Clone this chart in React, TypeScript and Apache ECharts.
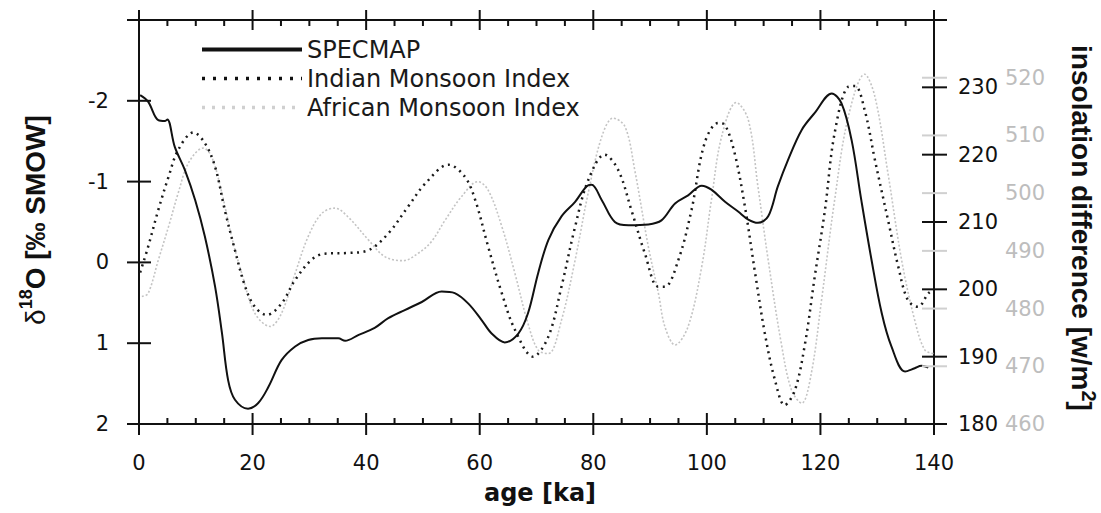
import React, { useEffect, useRef } from "react";
import * as echarts from "echarts";

// ---------- data ----------
const specmapAge = [0.2, 1.6, 3.4, 4.6, 5.0, 6.3, 8.1, 9.9, 11.6, 13.4, 14.6, 15.7, 16.9, 19.2, 21.0, 22.8, 25.1, 27.5, 29.8, 32.2, 35.1, 36.3, 38.6, 41.5, 43.9, 46.8, 49.8, 53.3, 55.6, 58.0, 60.3, 62.1, 64.4, 66.8, 68.5, 70.3, 72.1, 74.4, 76.8, 78.8, 79.7, 81.5, 83.8, 86.2, 89.7, 92.0, 94.4, 96.7, 99.1, 100.8, 103.2, 105.5, 107.3, 109.0, 110.8, 112.5, 114.3, 116.7, 119.0, 122.0, 123.7, 125.5, 127.2, 129.0, 130.8, 132.5, 134.9, 136.6, 137.8, 139.0];
const specmapValues = [-2.07, -1.99, -1.76, -1.75, -1.77, -1.43, -1.14, -0.77, -0.32, 0.30, 0.87, 1.46, 1.70, 1.81, 1.74, 1.54, 1.21, 1.04, 0.96, 0.94, 0.94, 0.97, 0.90, 0.81, 0.69, 0.59, 0.49, 0.36, 0.38, 0.51, 0.71, 0.88, 0.99, 0.88, 0.63, 0.13, -0.28, -0.57, -0.75, -0.94, -0.96, -0.77, -0.50, -0.46, -0.47, -0.52, -0.73, -0.83, -0.95, -0.90, -0.75, -0.63, -0.53, -0.49, -0.57, -0.94, -1.27, -1.64, -1.85, -2.09, -1.97, -1.51, -0.77, -0.03, 0.63, 1.04, 1.35, 1.31, 1.28, 1.30];

const indianAge = [0.2, 1.6, 3.4, 5.2, 6.9, 9.6, 11.6, 13.4, 15.1, 16.9, 18.7, 20.4, 22.5, 25.1, 27.5, 30.4, 32.7, 36.8, 40.4, 43.9, 47.4, 50.4, 54.5, 57.4, 59.2, 61.5, 63.9, 66.2, 69.4, 72.1, 74.4, 76.8, 79.1, 82.0, 84.4, 86.7, 89.1, 91.4, 92.6, 95.0, 97.3, 99.6, 102.0, 103.2, 104.9, 106.7, 108.5, 110.2, 112.0, 113.7, 115.5, 117.3, 119.0, 120.8, 122.5, 124.9, 126.1, 127.8, 129.6, 131.9, 133.7, 135.4, 137.2, 139.0, 140.0];
const indianValues = [202.5, 206.3, 211.8, 216.7, 220.7, 223.3, 221.7, 218.2, 211.8, 205.8, 200.4, 197.4, 196.2, 197.9, 201.4, 204.4, 205.3, 205.4, 205.8, 208.3, 212.3, 215.7, 218.5, 216.7, 213.3, 206.3, 199.4, 194.0, 190.0, 193.0, 200.4, 209.3, 216.2, 220.0, 217.7, 211.8, 205.3, 200.4, 200.4, 204.4, 211.8, 221.7, 224.7, 224.4, 220.2, 212.3, 202.4, 193.5, 186.5, 182.8, 185.0, 192.0, 201.9, 211.8, 223.2, 230.1, 230.2, 226.6, 219.2, 210.3, 203.4, 198.4, 197.4, 199.4, 200.0];

const africanAge = [0.5, 1.6, 3.4, 5.2, 6.9, 8.7, 11.3, 12.8, 14.6, 16.3, 18.1, 20.4, 23.1, 25.1, 27.5, 29.8, 32.2, 34.5, 36.8, 40.4, 43.3, 46.5, 49.2, 51.5, 53.9, 56.8, 59.7, 61.5, 63.9, 66.2, 68.5, 70.3, 72.1, 74.4, 76.8, 79.1, 81.5, 83.5, 85.6, 87.3, 89.7, 91.5, 92.6, 94.4, 96.7, 99.1, 100.8, 102.6, 105.2, 107.3, 109.0, 110.8, 113.1, 114.9, 116.7, 118.4, 120.2, 122.5, 124.9, 127.8, 129.6, 131.9, 134.3, 136.6, 138.4, 140.0];
const africanValues = [482.1, 482.6, 488.4, 494.2, 500.0, 505.2, 507.8, 506.3, 500.0, 492.5, 486.1, 479.2, 476.9, 479.2, 486.1, 492.5, 496.5, 497.4, 495.9, 491.9, 489.0, 488.3, 489.6, 491.6, 495.3, 499.4, 502.0, 500.5, 494.2, 486.1, 477.4, 472.8, 472.2, 478.0, 488.4, 500.0, 509.8, 513.0, 511.5, 504.0, 490.7, 482.5, 476.9, 473.7, 476.9, 487.3, 498.8, 509.8, 515.7, 512.7, 501.1, 488.4, 474.0, 465.9, 463.6, 468.8, 481.5, 498.8, 513.2, 520.6, 516.7, 503.4, 488.4, 478.0, 472.8, 472.2];

const seriesNames = ["SPECMAP", "Indian Monsoon Index", "African Monsoon Index"];
const xMin = 0, xMax = 140, xStep = 20, xMinorStep = 5;
const leftMin = -3, leftMax = 2, leftStep = 1;
const blackMin = 180, blackMax = 240, blackStep = 10;
const grayMin = 460, grayMax = 530, grayStep = 10;

const zip = (a: number[], b: number[]) => a.map((x, i) => [x, b[i]]);
const steps = (min: number, max: number, step: number) => {
  const out: number[] = [];
  for (let v = min; v <= max + 1e-9; v += step) out.push(v);
  return out;
};

const INK = "#111111";
const GRAY = "#c4c4c4";
const GRAY_TICK = "#d0d0d0";
const TICK_FONT = "DejaVu Sans";

export default function App() {
  const ref = useRef<HTMLDivElement>(null);

  useEffect(() => {
    if (!ref.current) return;
    const chart = echarts.init(ref.current, undefined, { renderer: "svg" });

    const labelStyle = { show: true, color: INK, fontSize: 21, fontFamily: TICK_FONT };
    const frameLine = { show: true, onZero: false, lineStyle: { color: INK, width: 2 } };

    const titles: any[] = [
      {
        type: "text",
        x: 33,
        y: 220,
        rotation: Math.PI / 2,
        style: {
          text: "{d|δ}{s|18}{m|O [‰ SMOW]}",
          align: "center",
          verticalAlign: "middle",
          fill: INK,
          rich: {
            d: { fontSize: 28, fontFamily: "Liberation Sans", lineHeight: 32, verticalAlign: "bottom", fill: INK },
            m: { fontSize: 28, fontWeight: "bold", fontFamily: "Liberation Sans", lineHeight: 32, verticalAlign: "bottom", fill: INK },
            s: { fontSize: 18, fontWeight: "bold", fontFamily: "Liberation Sans", lineHeight: 32, verticalAlign: "top", fill: INK },
          },
        },
      },
      {
        type: "text",
        x: 1083,
        y: 228,
        rotation: -Math.PI / 2,
        style: {
          text: "{m|insolation difference [w/m}{s|2}{m|]}",
          align: "center",
          verticalAlign: "middle",
          fill: INK,
          rich: {
            m: { fontSize: 28, fontWeight: "bold", fontFamily: "Liberation Sans", lineHeight: 32, verticalAlign: "bottom", fill: INK },
            s: { fontSize: 20, fontWeight: "bold", fontFamily: "Liberation Sans", lineHeight: 32, verticalAlign: "top", fill: INK },
          },
        },
      },
      {
        type: "text",
        x: 540,
        y: 493,
        style: {
          text: "age [ka]",
          align: "center",
          verticalAlign: "middle",
          fontSize: 24,
          fontWeight: "bold",
          fontFamily: TICK_FONT,
          fill: INK,
        },
      },
    ];

    const option: any = {
      animation: false,
      backgroundColor: "#ffffff",
      grid: { left: 139, right: 167, top: 20, bottom: 89 },
      legend: {
        orient: "vertical",
        left: 195,
        top: 30,
        itemWidth: 100,
        itemHeight: 14,
        itemGap: 0,
        selectedMode: false,
        itemStyle: { opacity: 0 },
        textStyle: { fontSize: 24, fontFamily: TICK_FONT, color: "#1a1a1a", lineHeight: 29 },
        data: [
          { name: seriesNames[0], itemStyle: { opacity: 0 }, lineStyle: { width: 4, color: INK, type: "solid" } },
          { name: seriesNames[1], itemStyle: { opacity: 0 }, lineStyle: { width: 3.5, color: INK, type: [3, 8] } },
          { name: seriesNames[2], itemStyle: { opacity: 0 }, lineStyle: { width: 3.5, color: "#d0d0d0", type: [3, 7] } },
        ],
      },
      xAxis: [
        {
          type: "value", position: "bottom", min: xMin, max: xMax, interval: xStep,
          splitLine: { show: false }, axisLine: frameLine, axisTick: { show: false },
          axisLabel: { ...labelStyle, margin: 28 },
        },
        {
          type: "value", position: "top", min: xMin, max: xMax, interval: xStep,
          splitLine: { show: false }, axisLine: frameLine, axisTick: { show: false },
          axisLabel: { show: false },
        },
      ],
      yAxis: [
        {
          type: "value", position: "left", inverse: true, min: leftMin, max: leftMax, interval: leftStep,
          splitLine: { show: false }, axisLine: frameLine, axisTick: { show: false },
          axisLabel: { ...labelStyle, margin: 30, showMinLabel: false },
        },
        {
          type: "value", position: "right", min: blackMin, max: blackMax, interval: blackStep,
          splitLine: { show: false }, axisLine: frameLine, axisTick: { show: false },
          axisLabel: { ...labelStyle, margin: 24, showMaxLabel: false },
        },
        {
          type: "value", position: "right", min: grayMin, max: grayMax, interval: grayStep,
          splitLine: { show: false }, axisLine: { show: false, onZero: false }, axisTick: { show: false },
          axisLabel: { show: true, color: "#bdbdbd", fontSize: 21, fontFamily: TICK_FONT, margin: 71, showMaxLabel: false },
        },
      ],
      graphic: titles,
      series: [
        {
          name: seriesNames[2], type: "line", xAxisIndex: 0, yAxisIndex: 2,
          data: zip(africanAge, africanValues), smooth: 0.35, symbol: "none", showSymbol: false,
          lineStyle: { color: GRAY, width: 1.6, type: [2, 2] }, itemStyle: { color: GRAY },
        },
        {
          name: seriesNames[1], type: "line", xAxisIndex: 0, yAxisIndex: 1,
          data: zip(indianAge, indianValues), smooth: 0.35, symbol: "none", showSymbol: false,
          lineStyle: { color: "#1a1a1a", width: 2.5, type: [2, 4.5] }, itemStyle: { color: "#1a1a1a" },
        },
        {
          name: seriesNames[0], type: "line", xAxisIndex: 0, yAxisIndex: 0,
          data: zip(specmapAge, specmapValues), smooth: 0.35, symbol: "none", showSymbol: false,
          lineStyle: { color: INK, width: 2 }, itemStyle: { color: INK },
        },
      ],
    };

    chart.setOption(option);

    // ---- crossing ticks, positioned through the chart's own axis scales ----
    const px = (v: number) => chart.convertToPixel({ xAxisIndex: 0 }, v) as number;
    const pyL = (v: number) => chart.convertToPixel({ yAxisIndex: 0 }, v) as number;
    const pyB = (v: number) => chart.convertToPixel({ yAxisIndex: 1 }, v) as number;
    const pyG = (v: number) => chart.convertToPixel({ yAxisIndex: 2 }, v) as number;
    const gLeft = px(xMin), gRight = px(xMax);
    const gTop = pyL(leftMin), gBottom = pyL(leftMax);

    const tick = (x1: number, y1: number, x2: number, y2: number, color = INK) => ({
      type: "line",
      silent: true,
      z: 100,
      shape: { x1, y1, x2, y2 },
      style: { stroke: color, lineWidth: 2 },
    });

    const ticks: any[] = [];
    steps(xMin, xMax, xMinorStep).forEach((v) => {
      const x = px(v);
      const major = Math.abs(v / xStep - Math.round(v / xStep)) < 1e-9;
      if (major) {
        ticks.push(tick(x, gBottom - 11, x, gBottom + 11));
        ticks.push(tick(x, gTop - 10, x, gTop + 10));
      } else {
        ticks.push(tick(x, gBottom - 6, x, gBottom));
        ticks.push(tick(x, gTop, x, gTop + 6));
      }
    });
    steps(leftMin, leftMax, leftStep).forEach((v) => {
      const y = pyL(v);
      ticks.push(tick(gLeft - 12, y, gLeft + 12, y));
    });
    steps(grayMin, grayMax, grayStep).forEach((v) => {
      const y = pyG(v);
      ticks.push(tick(gRight - 12, y, gRight + 13, y, GRAY_TICK));
    });
    steps(blackMin, blackMax, blackStep).forEach((v) => {
      const y = pyB(v);
      ticks.push(tick(gRight - 12, y, gRight + 13, y));
    });

    chart.setOption({ graphic: [...titles, ...ticks] });

    return () => chart.dispose();
  }, []);

  return (
    <div
      ref={ref}
      style={{ position: "fixed", left: 0, top: 0, width: 1101, height: 513, background: "#fff" }}
    />
  );
}
